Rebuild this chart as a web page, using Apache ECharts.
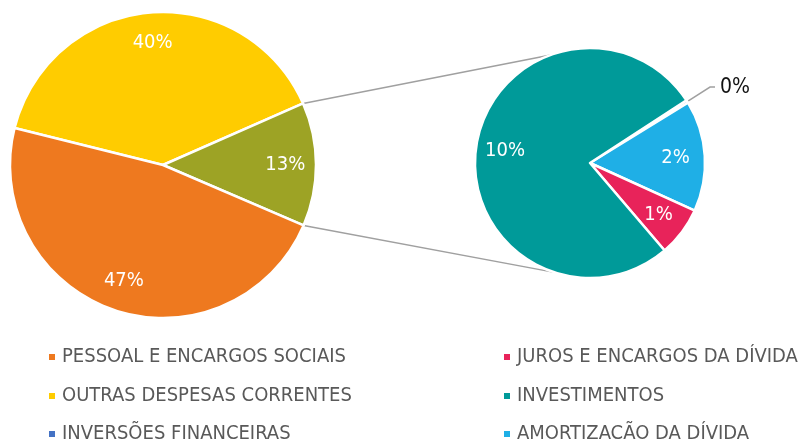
<!DOCTYPE html>
<html>
<head>
<meta charset="utf-8">
<script src="https://cdn.jsdelivr.net/npm/echarts@6/dist/echarts.min.js"></script>
<style>
  html, body { margin: 0; padding: 0; background: #fff; }
  #main { width: 806px; height: 443px; }
</style>
</head>
<body>
<div id="main"></div>
<script>
// main pie, clockwise from the yellow/orange boundary
const mainNames = ["OUTRAS DESPESAS CORRENTES", "OUTROS", "PESSOAL E ENCARGOS SOCIAIS"];
const mainValues = [39.5, null, 47.4];
// second pie (breakdown of "OUTROS"), clockwise from the top
const subNames = ["INVERSÕES FINANCEIRAS", "AMORTIZACÃO DA DÍVIDA", "JUROS E ENCARGOS DA DÍVIDA", "INVESTIMENTOS"];
const subValues = [0.05, 2.03, 0.91, 10.05];
const legendLeft = ["PESSOAL E ENCARGOS SOCIAIS", "OUTRAS DESPESAS CORRENTES", "INVERSÕES FINANCEIRAS"];
const legendRight = ["JUROS E ENCARGOS DA DÍVIDA", "INVESTIMENTOS", "AMORTIZACÃO DA DÍVIDA"];

const colors = {
  "PESSOAL E ENCARGOS SOCIAIS": "#EE791F",
  "OUTRAS DESPESAS CORRENTES": "#FFCC00",
  "OUTROS": "#9DA325",
  "INVERSÕES FINANCEIRAS": "#4472C4",
  "JUROS E ENCARGOS DA DÍVIDA": "#E8235A",
  "INVESTIMENTOS": "#009A99",
  "AMORTIZACÃO DA DÍVIDA": "#1FAFE6",
};

const font = "'DejaVu Sans Condensed', 'DejaVu Sans', sans-serif";
const L = { c: [163, 165], r: 153, start: 166 };
const R = { c: [590, 163], r: 115, start: 33 };
const rowY = [357, 396, 434];

const subTotal = subValues.reduce((a, b) => a + b, 0);
const mainVals = mainValues.map((v) => (v === null ? subTotal : v));
const mainTotal = mainVals.reduce((a, b) => a + b, 0);

const pct = (p) => Math.round(p.value) + "%";

function slices(names, values, extra) {
  return names.map((name, i) => Object.assign({ name, value: values[i] }, extra ? extra(name, i) : {}));
}

function point(c, r, deg) {
  const a = (deg * Math.PI) / 180;
  return [c[0] + r * Math.cos(a), c[1] - r * Math.sin(a)];
}

function legendItem(name, left, row) {
  return {
    left, top: rowY[row] - 10, padding: 0, itemWidth: 8, itemHeight: 8, icon: "rect",
    data: [name], selectedMode: false,
    textStyle: { color: "#595959", fontSize: 20, lineHeight: 20, fontFamily: font, padding: [0, 0, 0, 1] },
  };
}

// connector lines from the "OUTROS" slice edges to the second pie
const edgeTop = L.start - (mainVals[0] / mainTotal) * 360;
const edgeBottom = edgeTop - (mainVals[1] / mainTotal) * 360;
const p1 = point(L.c, L.r, edgeTop);
const p2 = point(L.c, L.r, edgeBottom);
const q1 = point(R.c, R.r, 110);
const q2 = point(R.c, R.r, -108);

const chart = echarts.init(document.getElementById("main"));
const base = {
  type: "pie",
  clockwise: true,
  avoidLabelOverlap: false,
  silent: true,
  animation: false,
};

chart.setOption({
  animation: false,
  legend: [
    ...legendLeft.map((n, i) => legendItem(n, 47, i)),
    ...legendRight.map((n, i) => legendItem(n, 502, i)),
  ],
  graphic: [
    { type: "line", shape: { x1: p1[0], y1: p1[1], x2: q1[0], y2: q1[1] }, style: { stroke: "#A0A0A0", lineWidth: 1.5 }, z: 0 },
    { type: "line", shape: { x1: p2[0], y1: p2[1], x2: q2[0], y2: q2[1] }, style: { stroke: "#A0A0A0", lineWidth: 1.5 }, z: 0 },
  ],
  series: [
    {
      ...base, center: L.c, radius: L.r, startAngle: L.start,
      data: slices(mainNames, mainVals, (n) => ({ itemStyle: { color: colors[n] } })),
      itemStyle: { borderColor: "#fff", borderWidth: 2.5 },
      label: { show: false }, labelLine: { show: false },
    },
    {
      ...base, center: L.c, radius: [L.r * 0.56, L.r], startAngle: L.start,
      data: slices(mainNames, mainVals),
      itemStyle: { color: "rgba(0,0,0,0)", borderWidth: 0 },
      label: { show: true, position: "inside", color: "#fff", fontSize: 20, fontFamily: font, formatter: pct },
      labelLine: { show: false },
    },
    {
      ...base, center: R.c, radius: R.r, startAngle: R.start,
      data: slices(subNames, subValues, (n) => ({ itemStyle: { color: colors[n] } })),
      itemStyle: { borderColor: "#fff", borderWidth: 2.5 },
      label: { show: false }, labelLine: { show: false },
    },
    {
      ...base, center: R.c, radius: [R.r * 0.44, R.r], startAngle: R.start,
      data: slices(subNames, subValues, (n, i) =>
        i === 0
          ? {
              label: { position: "outside", color: "#111", fontSize: 21 },
              labelLine: { show: true, length: 27, length2: 5, lineStyle: { color: "#A0A0A0", width: 1.5 } },
            }
          : {}
      ),
      itemStyle: { color: "rgba(0,0,0,0)", borderWidth: 0 },
      label: { show: true, position: "inside", color: "#fff", fontSize: 20, fontFamily: font, formatter: pct },
      labelLine: { show: false },
    },
  ],
});
</script>
</body>
</html>
